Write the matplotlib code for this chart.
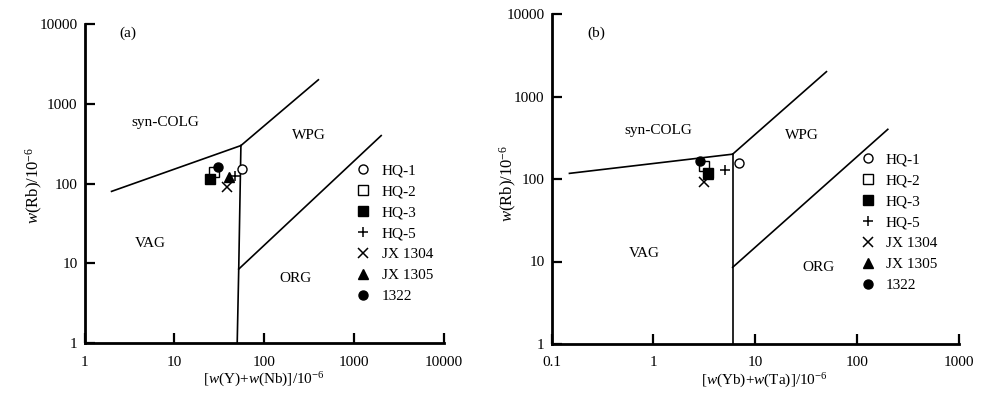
import matplotlib
matplotlib.use("Agg")
import matplotlib.pyplot as plt
from matplotlib.lines import Line2D

plt.rcParams['font.family'] = ['Liberation Serif', 'DejaVu Serif']
plt.rcParams['mathtext.fontset'] = 'custom'
plt.rcParams['mathtext.rm'] = 'Liberation Serif'
plt.rcParams['mathtext.it'] = 'Liberation Serif:italic'

# ---- data ----
samples = ["HQ-1", "HQ-2", "HQ-3", "HQ-5", "JX 1304", "JX 1305", "1322"]
markers = ["o", "s", "s", "+", "x", "^", "o"]
filled = [False, False, True, False, False, True, True]

# panel (a): Y+Nb vs Rb
a_x = [56.5, 27.3, 25.1, 47.6, 38.5, 40.8, 30.3]
a_y = [152, 141, 113, 125, 90, 120, 160]
# panel (b): Yb+Ta vs Rb
b_x = [7.0, 3.16, 3.41, 5.1, 3.16, 3.4, 2.84]
b_y = [155, 143, 117, 127, 91, 115, 163]

# discrimination boundaries (Pearce et al., 1984)
a_lines = [
    ([2, 55], [80, 300]),
    ([55, 400], [300, 2000]),
    ([55, 52, 50], [300, 8.5, 1]),
    ([52, 2000], [8.5, 400]),
]
b_lines = [
    ([0.15, 6], [117, 200]),
    ([6, 50], [200, 2000]),
    ([6, 6, 6], [200, 8.5, 1]),
    ([6, 200], [8.5, 400]),
]

a_regions = [("syn-COLG", 0.225, 0.69), ("WPG", 0.625, 0.652),
             ("VAG", 0.183, 0.311), ("ORG", 0.586, 0.204)]
b_regions = [("syn-COLG", 0.262, 0.647), ("WPG", 0.615, 0.632),
             ("VAG", 0.228, 0.274), ("ORG", 0.654, 0.231)]

a_xticks = [1, 10, 100, 1000, 10000]
a_xlabels = ["1", "10", "100", "1000", "10000"]
b_xticks = [0.1, 1, 10, 100, 1000]
b_xlabels = ["0.1", "1", "10", "100", "1000"]
yticks = [1, 10, 100, 1000, 10000]
ylabels = ["1", "10", "100", "1000", "10000"]

fig = plt.figure(figsize=(10, 3.99), dpi=100)
W, H = 1000, 399


def make_ax(l, r, t, b):
    return fig.add_axes([l / W, (H - b) / H, (r - l) / W, (b - t) / H])


ax_a = make_ax(84.5, 444, 24, 343.3)
ax_b = make_ax(551.5, 959, 14, 344)


def style(ax, xticks, xlabels, xlim, xlab, lines, regions, xs, ys, tag, tagpos, legpos,
          ylabpos, xlabx):
    ax.set_xscale('log')
    ax.set_yscale('log')
    ax.set_xlim(*xlim)
    ax.set_ylim(1, 10000)
    for s in ['top', 'right']:
        ax.spines[s].set_visible(False)
    for s in ['left', 'bottom']:
        ax.spines[s].set_linewidth(2.0)
    ax.set_xticks(xticks)
    ax.set_xticklabels(xlabels)
    ax.set_yticks(yticks)
    ax.set_yticklabels(ylabels)
    ax.minorticks_off()
    ax.tick_params(direction='in', length=7, width=1.6, labelsize=11, pad=9, axis='x')
    ax.tick_params(direction='in', length=7, width=1.6, labelsize=11, pad=5, axis='y')
    for lx, ly in lines:
        ax.plot(lx, ly, color='black', lw=1.2)
    for name, tx, ty in regions:
        ax.text(tx, ty, name, transform=ax.transAxes, ha='center', va='center', fontsize=11)
    ax.text(tagpos[0], tagpos[1], tag, transform=ax.transAxes, ha='center', va='center', fontsize=11)
    handles = []
    for i, name in enumerate(samples):
        mk = markers[i]
        if mk in ['+', 'x']:
            kw = dict(color='black', markersize=7, markeredgewidth=1.1)
        elif filled[i]:
            kw = dict(markerfacecolor='black', markeredgecolor='black', markersize=6.5, markeredgewidth=1)
        else:
            kw = dict(markerfacecolor='white', markeredgecolor='black', markersize=6.5, markeredgewidth=1)
        ax.plot([xs[i]], [ys[i]], linestyle='none', marker=mk, zorder=3, **kw)
        handles.append(Line2D([], [], linestyle='none', marker=mk, label=name, **kw))
    ax.legend(handles=handles, loc='upper left', bbox_to_anchor=legpos, frameon=False,
              fontsize=11, handlelength=1.0, handletextpad=0.7, labelspacing=0.48,
              borderpad=0, borderaxespad=0)
    ax.set_ylabel(r'$\mathit{w}$(Rb)/10$^{-6}$', fontsize=12)
    ax.yaxis.set_label_coords(ylabpos[0], ylabpos[1])
    ax.set_xlabel(xlab, fontsize=11)
    ax.xaxis.set_label_coords(xlabx, -0.085)


style(ax_a, a_xticks, a_xlabels, (1, 10000),
      r'[$\mathit{w}$(Y)+$\mathit{w}$(Nb)]/10$^{-6}$', a_lines, a_regions,
      a_x, a_y, '(a)', (0.122, 0.97), (0.754, 0.563), (-0.11, 0.494), 0.5)
style(ax_b, b_xticks, b_xlabels, (0.1, 1000),
      r'[$\mathit{w}$(Yb)+$\mathit{w}$(Ta)]/10$^{-6}$', b_lines, b_regions,
      b_x, b_y, '(b)', (0.11, 0.942), (0.757, 0.58), (-0.079, 0.486), 0.523)

fig.savefig('out.png', dpi=100)
